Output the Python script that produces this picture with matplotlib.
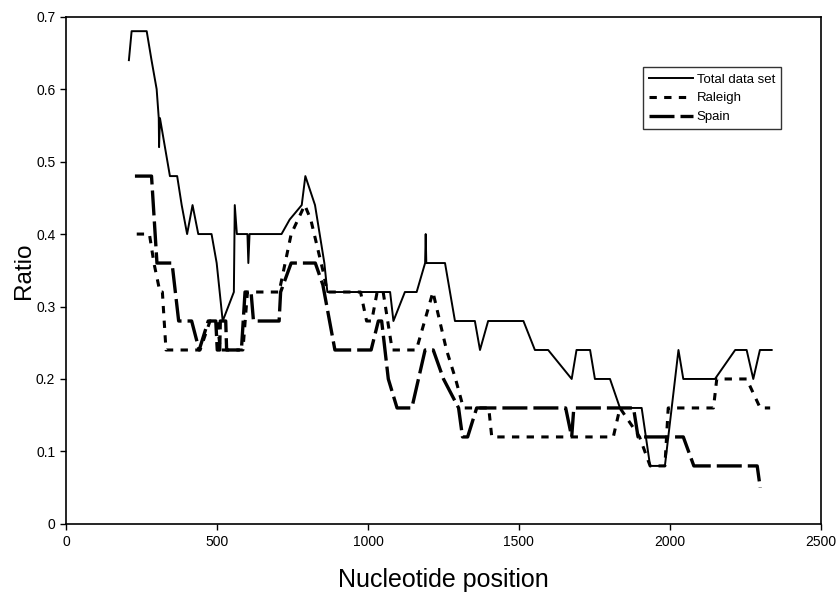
import matplotlib
matplotlib.use('Agg')
import matplotlib.pyplot as plt

plt.rcParams['font.family'] = ['Liberation Sans', 'DejaVu Sans']

# --- data ---
total_x = [207, 216, 266, 282, 299, 306, 307, 310, 343, 367, 382, 400, 418, 437, 481,
           498, 518, 555, 558, 565, 600, 603, 607, 713, 740, 780, 792, 824, 855, 865,
           1073, 1084, 1122, 1161, 1189, 1191, 1193, 1255, 1288, 1354, 1371, 1398, 1515,
           1553, 1597, 1675, 1691, 1736, 1752, 1802, 1835, 1907, 1935, 1984, 2029, 2045,
           2150, 2217, 2255, 2277, 2299, 2338]
total_y = [0.64, 0.68, 0.68, 0.64, 0.60, 0.56, 0.52, 0.56, 0.48, 0.48, 0.44, 0.40, 0.44, 0.40, 0.40,
           0.36, 0.28, 0.32, 0.44, 0.40, 0.40, 0.36, 0.40, 0.40, 0.42, 0.44, 0.48, 0.44, 0.36, 0.32,
           0.32, 0.28, 0.32, 0.32, 0.36, 0.40, 0.36, 0.36, 0.28, 0.28, 0.24, 0.28, 0.28,
           0.24, 0.24, 0.20, 0.24, 0.24, 0.20, 0.20, 0.16, 0.16, 0.08, 0.08, 0.24, 0.20,
           0.20, 0.24, 0.24, 0.20, 0.24, 0.24]

raleigh_x = [233, 275, 290, 310, 318, 330, 443, 476, 500, 510, 585, 600, 705, 745, 790,
             810, 850, 865, 975, 995, 1012, 1030, 1050, 1065, 1080, 1160, 1215, 1260, 1290,
             1316, 1400, 1410, 1813, 1835, 1900, 1935, 1984, 1995, 2145, 2156, 2255, 2300, 2333]
raleigh_y = [0.40, 0.40, 0.36, 0.32, 0.32, 0.24, 0.24, 0.28, 0.28, 0.24, 0.24, 0.32, 0.32, 0.40, 0.44,
             0.42, 0.35, 0.32, 0.32, 0.28, 0.28, 0.32, 0.32, 0.28, 0.24, 0.24, 0.32, 0.24, 0.20,
             0.16, 0.16, 0.12, 0.12, 0.16, 0.12, 0.08, 0.08, 0.16, 0.16, 0.20, 0.20, 0.16, 0.16]

spain_x = [227, 282, 300, 350, 372, 415, 440, 470, 495, 500, 508, 510, 528, 531, 580, 592,
           612, 620, 705, 710, 745, 825, 850, 890, 1010, 1034, 1045, 1067, 1096, 1145, 1189,
           1216, 1250, 1300, 1313, 1330, 1360, 1655, 1675, 1682, 1880, 1895, 2045, 2080,
           2290, 2300]
spain_y = [0.48, 0.48, 0.36, 0.36, 0.28, 0.28, 0.24, 0.28, 0.28, 0.24, 0.24, 0.28, 0.28, 0.24, 0.24, 0.32,
           0.32, 0.28, 0.28, 0.32, 0.36, 0.36, 0.33, 0.24, 0.24, 0.28, 0.28, 0.20, 0.16, 0.16, 0.24,
           0.24, 0.20, 0.16, 0.12, 0.12, 0.16, 0.16, 0.12, 0.16, 0.16, 0.12, 0.12, 0.08,
           0.08, 0.05]

fig = plt.figure(figsize=(8.36, 5.96), dpi=100)
ax = fig.add_axes([0.0795, 0.121, 0.902, 0.851])

ax.plot(total_x, total_y, color='black', linewidth=1.4, label='Total data set')
ax.plot(raleigh_x, raleigh_y, color='black', linewidth=2.2, dashes=(2.4, 2.4), label='Raleigh')
ax.plot(spain_x, spain_y, color='black', linewidth=2.4, dashes=(7.5, 1.8), label='Spain')

ax.set_xlim(0, 2500)
ax.set_ylim(0, 0.7)
ax.set_xticks([0, 500, 1000, 1500, 2000, 2500])
ax.set_yticks([0, 0.1, 0.2, 0.3, 0.4, 0.5, 0.6, 0.7])
ax.set_yticklabels(['0', '0.1', '0.2', '0.3', '0.4', '0.5', '0.6', '0.7'])
ax.tick_params(direction='out', length=4, width=1, labelsize=10, pad=4)
for s in ax.spines.values():
    s.set_linewidth(1.2)

ax.set_xlabel('Nucleotide position', fontsize=18, labelpad=14)
ax.set_ylabel('Ratio', fontsize=17.5, labelpad=1)

leg = ax.legend(loc='upper left', bbox_to_anchor=(0.765, 0.9), borderaxespad=0,
                fontsize=9.5, frameon=True, fancybox=False, edgecolor='black',
                handlelength=3.3, borderpad=0.45, labelspacing=0.5, handletextpad=0.3)
leg.get_frame().set_linewidth(1.0)

plt.savefig('out.png', dpi=100)
